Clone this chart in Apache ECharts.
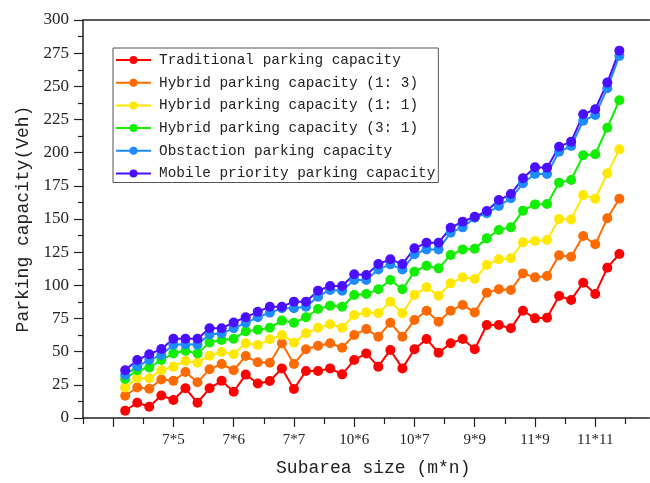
<!DOCTYPE html>
<html>
<head>
<meta charset="utf-8">
<script src="https://cdn.jsdelivr.net/npm/echarts@6/dist/echarts.min.js"></script>
<style>html,body{margin:0;padding:0;background:#fff}#c{width:650px;height:483px}</style>
</head>
<body>
<div id="c"></div>
<script>
const tickLabels = ['7*5','7*6','7*7','10*6','10*7','9*9','11*9','11*11'];
const seriesNames = ['Traditional parking capacity','Hybrid parking capacity (1: 3)','Hybrid parking capacity (1: 1)','Hybrid parking capacity (3: 1)','Obstaction parking capacity','Mobile priority parking capacity'];
const colors = ['#ff0000','#ff6a00','#ffe800','#11ee00','#1e8cff','#4b0fff'];

const traditional = [5.5,11.5,8.5,17,13.6,22.4,11.5,22.4,28,19.8,32.7,26,27.9,37.4,21.9,35.4,35.4,37.4,32.9,43.7,48.7,38.7,51.3,37.4,51.8,59.5,49.2,56.3,59.5,51.8,70.1,70.1,67.6,80.9,75.1,75.6,92,89,102,93.5,113.3,123.6];
const hybrid13 = [16.8,23,22,29,28,34.7,27,36.7,40.7,36,46.7,42,41.7,56.3,40.7,51.8,54.5,56.3,53,62.6,67,61.3,71.8,61.3,73.9,80.9,72.6,80.9,85.2,79.6,94.5,97,96.5,109,106,107,122.6,121.6,137.2,130.9,150.5,165.3];
const hybrid11 = [23,30,30,36,38.7,43,41.7,47,49.7,48,56.3,55,59.3,62.6,56.8,63.8,68,70.6,68,77.6,79.6,78.9,87.7,78.9,92.7,98.5,92.2,101.5,106,104.8,115.3,119.6,120.4,132.4,133.4,134.2,150,149.7,168,165.3,184.4,202.5];
const hybrid31 = [29.4,36,38,43.7,48.7,50.7,48.7,57,58.8,59.8,65.3,66.6,68,73.4,71.8,75.9,82.2,84.7,83.9,92.7,93.5,97,104,97,110.3,114.8,112.8,122.9,127.1,127.6,135.4,141.7,143.7,156.3,161,161.3,177.4,179.4,198,198.8,218.8,239.5];
const obstaction = [32.4,39,43.7,47.5,55.3,55.5,55.3,63,63.8,67.6,71.8,75.9,79.4,82.7,82.7,83.9,91.4,96.5,96,104,104,112,115.8,112,123.4,127.1,127.1,139.7,143.7,151,154.3,159.8,165.6,176.9,183.9,183.9,200.7,205,224,228.4,248.5,272.9];
const mobilePriority = [36,43.7,48,52,59.8,59.8,59.8,67.6,67.6,72,76,80,83.9,83.9,87.7,87.7,96,99.5,99.5,108.3,107.8,116,119.6,116,127.9,132.1,132.1,143.4,148,151.7,156,164.3,168.8,180.7,189,188.7,204.5,208.3,228.9,232.7,252.8,276.9];

const allSeries = [traditional, hybrid13, hybrid11, hybrid31, obstaction, mobilePriority];

const chart = echarts.init(document.getElementById('c'), null, {renderer:'canvas'});
const axisColor = '#222';
const xMin = -2.5, xMax = 44.5;
const majorTicks = [0,5,10,15,20,25,30,35,40];
const minorTicks = [-2.5,2.5,7.5,12.5,17.5,22.5,27.5,32.5,37.5,42.5];
const labelTicks = [5,10,15,20,25,30,35,40];

chart.setOption({
  animation:false,
  backgroundColor:'#fff',
  grid:{left:83, right:0.5, top:20, bottom:65, containLabel:false},
  legend:{
    left:113, top:48, orient:'vertical',
    itemWidth:35, itemHeight:10, itemGap:8.7,
    padding:[5,3,2,2],
    borderColor:'#555', borderWidth:1,
    textStyle:{fontFamily:'Liberation Mono', fontSize:14.4, color:'#222', padding:[0,0,0,3], lineHeight:10},
    data:seriesNames
  },
  xAxis:[
    {
      type:'value', min:xMin, max:xMax, position:'bottom',
      name:'Subarea size (m*n)', nameLocation:'middle', nameGap:41,
      nameTextStyle:{fontFamily:'Liberation Mono', fontSize:18, color:'#222', padding:[0,0,0,14]},
      axisLine:{show:true, onZero:false, lineStyle:{color:axisColor, width:1.5}},
      axisTick:{show:true, inside:false, length:9, customValues:majorTicks, lineStyle:{color:axisColor, width:1.2}},
      axisLabel:{show:true, customValues:labelTicks, margin:15, fontFamily:'Liberation Serif', fontSize:15, color:'#222',
        formatter:function(v){ const k = Math.round(v/5)-1; return tickLabels[k] || ''; }},
      splitLine:{show:false}
    },
    {
      type:'value', min:xMin, max:xMax, position:'bottom', offset:0,
      axisLine:{show:false},
      axisTick:{show:true, inside:false, length:6, customValues:minorTicks, lineStyle:{color:axisColor, width:1.2}},
      axisLabel:{show:false}, splitLine:{show:false}
    },
    {
      type:'value', min:xMin, max:xMax, position:'top',
      axisLine:{show:true, onZero:false, lineStyle:{color:axisColor, width:1.5}},
      axisTick:{show:false}, axisLabel:{show:false}, splitLine:{show:false}
    }
  ],
  yAxis:{
    type:'value', min:0, max:300, interval:25,
    name:'Parking capacity(Veh)', nameLocation:'middle', nameGap:39, nameRotate:90,
    nameTextStyle:{fontFamily:'Liberation Mono', fontSize:18, color:'#222'},
    axisLine:{show:true, onZero:false, lineStyle:{color:axisColor, width:1.5}},
    axisTick:{show:true, inside:false, length:9, lineStyle:{color:axisColor, width:1.2}},
    minorTick:{show:true, splitNumber:2, length:5, lineStyle:{color:axisColor, width:1.2}},
    axisLabel:{margin:14, fontFamily:'Liberation Serif', fontSize:17, color:'#222'},
    splitLine:{show:false}, minorSplitLine:{show:false}
  },
  series: allSeries.map(function(vals, s){
    return {
      name:seriesNames[s], type:'line', xAxisIndex:0,
      data: vals.map(function(v,i){ return [i+1, v]; }),
      symbol:'circle', symbolSize:10, showSymbol:true,
      lineStyle:{color:colors[s], width:2},
      itemStyle:{color:colors[s]},
      emphasis:{disabled:true}
    };
  })
});
</script>
</body>
</html>
